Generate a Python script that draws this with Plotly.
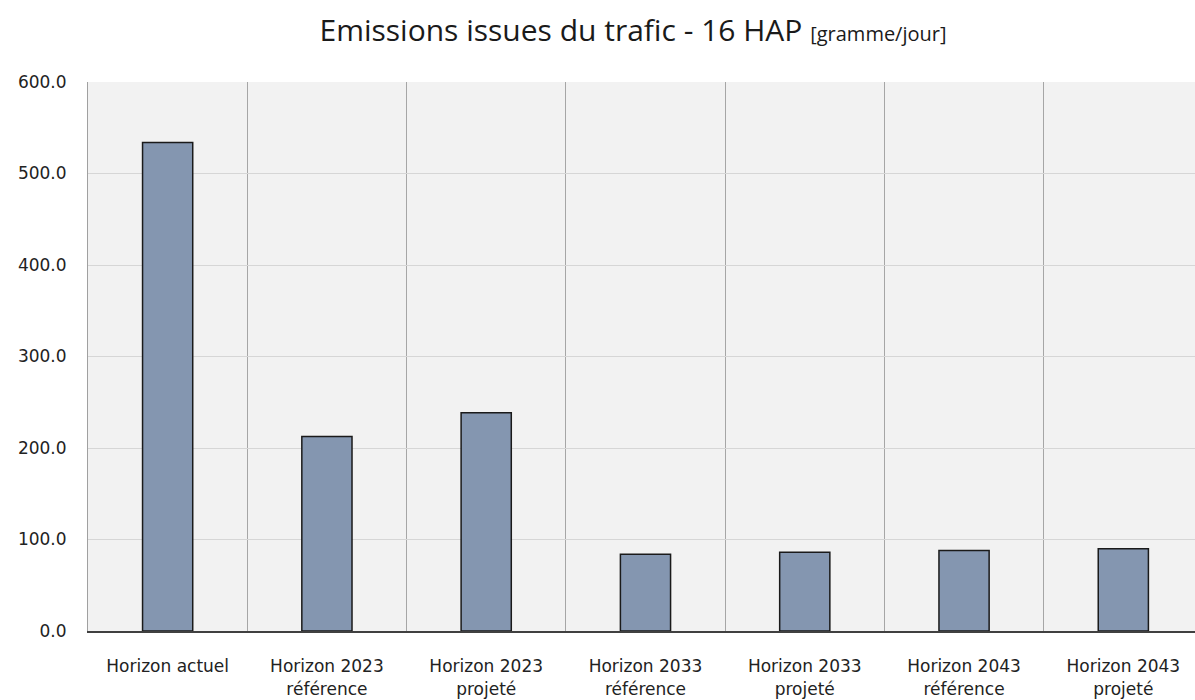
import plotly.graph_objects as go

categories = [
    "Horizon actuel",
    "Horizon 2023<br>référence",
    "Horizon 2023<br>projeté",
    "Horizon 2033<br>référence",
    "Horizon 2033<br>projeté",
    "Horizon 2043<br>référence",
    "Horizon 2043<br>projeté",
]
values = [534.0, 212.5, 238.5, 84.0, 86.0, 88.0, 90.0]
tick_values = [0, 100, 200, 300, 400, 500, 600]
tick_labels = ["0.0", "100.0", "200.0", "300.0", "400.0", "500.0", "600.0"]

fig = go.Figure()
fig.add_trace(go.Bar(
    x=categories,
    y=values,
    width=0.315,
    marker=dict(color="#8496B0", line=dict(color="#1a1a1a", width=1.5)),
    hoverinfo="x+y",
))

fig.update_layout(
    width=1195,
    height=700,
    margin=dict(l=88, r=0, t=82, b=69),
    paper_bgcolor="white",
    plot_bgcolor="#F2F2F2",
    showlegend=False,
    font=dict(family="DejaVu Sans", size=17, color="#222222"),
    title=dict(
        text="Emissions issues du trafic - 16 HAP <span style='font-size:20px'>[gramme/jour]</span>",
        font=dict(family="Open Sans", size=30, color="#1a1a1a"),
        x=633 / 1195,
        xanchor="center",
        y=1 - 30 / 700,
        yanchor="middle",
    ),
)

fig.update_xaxes(
    type="category",
    range=[-0.5, 6.45],
    tickson="boundaries",
    showgrid=True,
    gridcolor="#A6A6A6",
    gridwidth=1,
    showline=True,
    linecolor="#404040",
    linewidth=2,
    ticks="",
    ticklabelstandoff=19,
    tickfont=dict(family="DejaVu Sans", size=17, color="#222222"),
)

fig.update_yaxes(
    range=[0, 600],
    tickvals=tick_values,
    ticktext=tick_labels,
    showgrid=True,
    gridcolor="#D6D6D6",
    gridwidth=1,
    zeroline=False,
    showline=True,
    linecolor="#A0A0A0",
    linewidth=1,
    ticks="",
    ticklabelstandoff=17,
    tickfont=dict(family="DejaVu Sans", size=17, color="#222222"),
)

fig.write_html("out.html")
